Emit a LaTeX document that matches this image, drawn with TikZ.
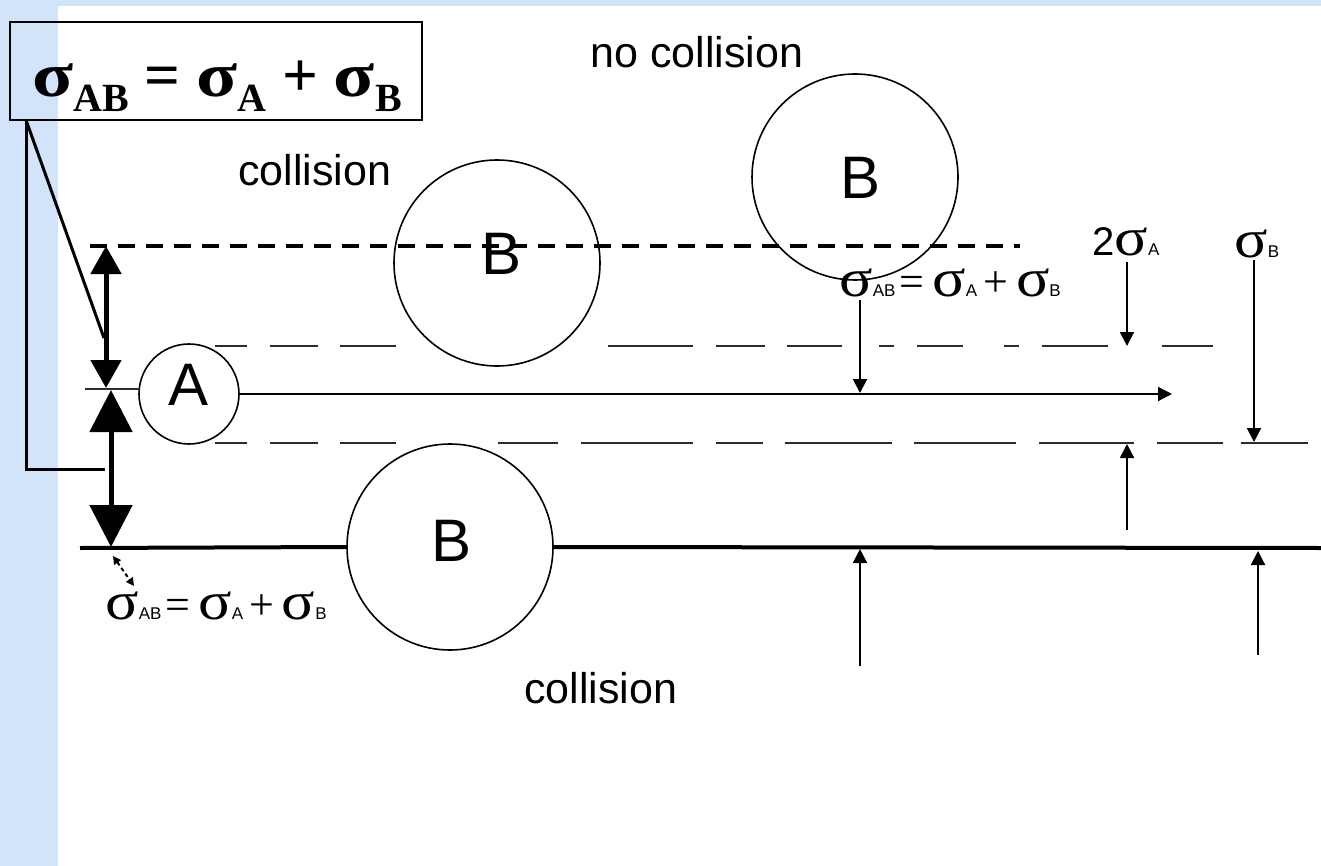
\documentclass[tikz,border=0pt]{standalone}
\usepackage{fontspec}
\usepackage{graphicx}
\setmainfont{Liberation Sans}
\newfontfamily\serifg{Liberation Serif}
\usetikzlibrary{arrows.meta}
\definecolor{bgblue}{RGB}{210,228,250}
\definecolor{linegray}{RGB}{45,45,45}
\newcommand{\bigsig}{\scalebox{1.2}[1]{σ}}
\newcommand{\bigsub}[1]{\raisebox{-7.5pt}{\fontsize{20}{20}\selectfont #1}}
\newcommand{\ssig}{{\serifg\fontsize{27}{27}\selectfont\scalebox{1.15}[1]{σ}}}
\newcommand{\ssub}[1]{{\fontsize{8.5}{9}\selectfont #1}}
\newcommand{\srel}[1]{{\serifg\fontsize{22}{22}\selectfont #1}}
\newcommand{\sabrel}{\ssig\ssub{AB}\hspace{2pt}\srel{=}\hspace{4pt}\ssig\ssub{A}\hspace{3pt}\srel{+}\hspace{4pt}\ssig\ssub{B}}
\tikzset{
  thinarrow/.style={line width=1pt, -{Triangle[width=7pt,length=7pt]}},
  bigdash/.style={line width=2.4pt, dash pattern=on 8.5pt off 5.5pt},
  thindash/.style={line width=1pt, draw=linegray},
  ball/.style={circle, draw=black, line width=0.8pt, minimum size=103pt, inner sep=0pt},
  smallball/.style={circle, draw=black, line width=0.8pt, minimum size=50pt, inner sep=0pt},
  balllabel/.style={font=\fontsize{30}{30}\selectfont, inner sep=0pt},
  caption/.style={font=\fontsize{21.5}{24}\selectfont, inner sep=0pt, anchor=base west},
  siglabel/.style={inner sep=0pt, anchor=base west},
  connector/.style={line width=1.5pt},
}
\begin{document}
\begin{tikzpicture}[x=0.5pt,y=-0.5pt]
\useasboundingbox (0,0) rectangle (1321,866);
\fill[bgblue] (0,0) rectangle (1321,866);
\fill[white] (58,6) rectangle (1321,866);

% formula box
\node[draw, line width=1pt, minimum width=206pt, minimum height=49pt, inner sep=0pt] (fbox) at (216,71) {};
\node[siglabel, font=\serifg\bfseries\fontsize{31.5}{36}\selectfont] (formula) at (32,97)
  {\bigsig\bigsub{AB} = \bigsig\bigsub{A} + \bigsig\bigsub{B}};

% texts
\node[caption] (nocol) at (590,68) {no collision};
\node[caption] (col1) at (238,186) {collision};
\node[caption] (col2) at (524,703) {collision};

% circles
\node[ball] (B1) at (497,263) {};
\node[ball] (B2) at (855,177) {};
\node[ball] (B3) at (450,547) {};
\node[smallball] (A) at (189,394) {};
\node[balllabel] (B1l) at (502,254) {B};
\node[balllabel] (B2l) at (860,178) {B};
\node[balllabel] (B3l) at (452,541) {B};
\node[balllabel] (Al) at (189,385) {A};

% thick dashed line
\coordinate (dl) at (90,246);
\coordinate (dr) at (1020,246);
\draw[bigdash] (dl) -- (dr);

% thin dashed lines (pieces)
\foreach \a/\b in {215/247,270/318,340/396,608/693,716/765,787/842,879/894,917/963,1004/1019,1042/1108,1162/1213}
  \draw[thindash] (\a,346) -- (\b,346);
\foreach \a/\b in {215/247,270/318,340/396,498/558,581/693,716/763,785/892,914/1016,1039/1134,1157/1223,1241/1308}
  \draw[thindash] (\a,443) -- (\b,443);

% main path of A
\coordinate (mainend) at (1172,394);
\draw[thinarrow] (A.east) -- (mainend);
\coordinate (shortL) at (85,389);
\coordinate (shortR) at (140,389);
\draw[line width=1pt, draw=linegray] (shortL) -- (shortR);

% bottom solid line
\coordinate (botL) at (80,548);
\coordinate (botR) at (1321,548);
\draw[line width=2pt] (botL) -- (B3.west);
\draw[line width=2pt] (B3.east) -- (botR);

% left double arrows
\coordinate (a1t) at (106,246);
\coordinate (a1b) at (106,388);
\coordinate (a2t) at (111,390);
\coordinate (a2b) at (111,547);
\draw[line width=2.5pt, {Triangle[width=15pt,length=14pt]}-{Triangle[width=15pt,length=14pt]}] (a1t) -- (a1b);
\draw[line width=2.5pt, {Triangle[width=21pt,length=21pt]}-{Triangle[width=21pt,length=21pt]}] (a2t) -- (a2b);

% connectors from formula box
\coordinate (boxfoot) at (26,120);
\coordinate (diagend) at (104,338);
\coordinate (legend) at (105,469);
\draw[connector] (boxfoot) -- (diagend);
\draw[connector] (boxfoot) |- (legend);

% small dashed arrow
\coordinate (sda) at (113,556);
\coordinate (sdb) at (134,586);
\draw[line width=1pt, dash pattern=on 2pt off 1.5pt, {Triangle[width=4pt,length=4pt]}-{Triangle[width=4pt,length=4pt]}] (sda) -- (sdb);

% sigma labels
\node[siglabel] (lab1) at (105,619) {\sabrel};
\node[siglabel] (lab2) at (839,296) {\sabrel};
\node[siglabel] (lab3) at (1092,256) {{\fontsize{20}{20}\selectfont 2}\ssig\ssub{A}};
\node[siglabel] (lab4) at (1234,257) {\ssig\ssub{B}};

% dimension arrows
\coordinate (v1s) at (860,300);  \coordinate (v1e) at (860,393);
\coordinate (v2s) at (1127,262); \coordinate (v2e) at (1127,346);
\coordinate (v3s) at (1254,260); \coordinate (v3e) at (1254,442);
\coordinate (v4s) at (1127,530); \coordinate (v4e) at (1127,444);
\coordinate (v5s) at (860,666);  \coordinate (v5e) at (860,549);
\coordinate (v6s) at (1258,655); \coordinate (v6e) at (1258,551);
\draw[thinarrow] (v1s) -- (v1e);
\draw[thinarrow] (v2s) -- (v2e);
\draw[thinarrow] (v3s) -- (v3e);
\draw[thinarrow] (v4s) -- (v4e);
\draw[thinarrow] (v5s) -- (v5e);
\draw[thinarrow] (v6s) -- (v6e);
\end{tikzpicture}
\end{document}
